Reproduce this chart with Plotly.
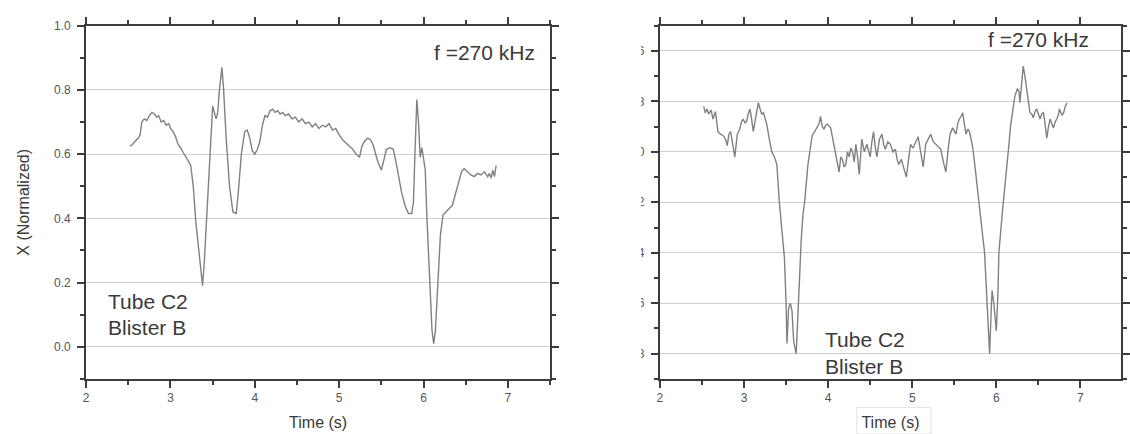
import plotly.graph_objects as go

# ---- left panel: X (Normalized) vs time ----
time_x = [2.52, 2.55, 2.58, 2.62, 2.64, 2.66, 2.69, 2.72, 2.75, 2.78, 2.81, 2.84, 2.86, 2.89,
          2.92, 2.95, 2.98, 3.00, 3.03, 3.06, 3.09, 3.12, 3.15, 3.18, 3.21, 3.24, 3.27, 3.30,
          3.33, 3.36, 3.38, 3.40, 3.43, 3.46, 3.49, 3.50, 3.52, 3.54, 3.56, 3.58, 3.61, 3.63,
          3.66, 3.70, 3.74, 3.78, 3.81, 3.84, 3.88, 3.91, 3.94, 3.97, 4.00, 4.03, 4.06, 4.09,
          4.12, 4.15, 4.18, 4.21, 4.24, 4.27, 4.30, 4.33, 4.36, 4.40, 4.44, 4.48, 4.52, 4.56,
          4.60, 4.64, 4.68, 4.72, 4.76, 4.80, 4.84, 4.88, 4.92, 4.96, 5.00, 5.04, 5.08, 5.12,
          5.16, 5.20, 5.24, 5.27, 5.30, 5.34, 5.37, 5.40, 5.43, 5.46, 5.50, 5.53, 5.56, 5.60,
          5.64, 5.67, 5.70, 5.74, 5.78, 5.82, 5.86, 5.88, 5.90, 5.92, 5.94, 5.96, 5.98, 6.00,
          6.02, 6.04, 6.07, 6.10, 6.12, 6.14, 6.17, 6.20, 6.23, 6.26, 6.30, 6.34, 6.38, 6.42,
          6.45, 6.48, 6.52, 6.56, 6.60, 6.64, 6.68, 6.72, 6.76, 6.78, 6.80, 6.82, 6.84, 6.86]
x_norm = [0.625, 0.63, 0.64, 0.65, 0.66, 0.70, 0.71, 0.705, 0.72, 0.73, 0.725, 0.715, 0.72, 0.70,
          0.705, 0.69, 0.695, 0.68, 0.67, 0.655, 0.63, 0.62, 0.605, 0.59, 0.58, 0.565, 0.50, 0.39,
          0.31, 0.25, 0.19, 0.26, 0.40, 0.55, 0.70, 0.75, 0.73, 0.71, 0.73, 0.80, 0.87, 0.80,
          0.65, 0.50, 0.42, 0.415, 0.50, 0.60, 0.67, 0.675, 0.65, 0.61, 0.60, 0.615, 0.64, 0.69,
          0.72, 0.715, 0.735, 0.74, 0.73, 0.735, 0.725, 0.73, 0.72, 0.725, 0.71, 0.715, 0.70, 0.71,
          0.695, 0.70, 0.685, 0.695, 0.68, 0.69, 0.685, 0.695, 0.675, 0.68, 0.66, 0.645, 0.635, 0.625,
          0.615, 0.60, 0.59, 0.625, 0.64, 0.65, 0.645, 0.63, 0.60, 0.575, 0.55, 0.58, 0.615, 0.62,
          0.615, 0.58, 0.54, 0.48, 0.44, 0.415, 0.415, 0.45, 0.62, 0.77, 0.70, 0.59, 0.62, 0.59,
          0.55, 0.40, 0.20, 0.05, 0.01, 0.05, 0.20, 0.35, 0.41, 0.42, 0.43, 0.44, 0.48, 0.52,
          0.545, 0.555, 0.545, 0.535, 0.53, 0.54, 0.535, 0.545, 0.53, 0.54, 0.525, 0.55, 0.53, 0.565]

# ---- right panel: Y (Normalized) vs time ----
time_y = [2.52, 2.54, 2.56, 2.58, 2.61, 2.63, 2.66, 2.69, 2.72, 2.75, 2.78, 2.80, 2.82, 2.84,
          2.86, 2.89, 2.92, 2.95, 2.97, 2.99, 3.01, 3.03, 3.05, 3.07, 3.09, 3.11, 3.14, 3.17,
          3.19, 3.21, 3.23, 3.25, 3.27, 3.30, 3.33, 3.36, 3.39, 3.42, 3.45, 3.48, 3.50, 3.51,
          3.53, 3.55, 3.57, 3.59, 3.62, 3.65, 3.68, 3.70, 3.72, 3.76, 3.79, 3.81, 3.84, 3.87,
          3.89, 3.91, 3.93, 3.95, 3.97, 3.99, 4.01, 4.03, 4.05, 4.07, 4.10, 4.13, 4.15, 4.17,
          4.19, 4.21, 4.23, 4.25, 4.27, 4.29, 4.31, 4.33, 4.35, 4.37, 4.40, 4.43, 4.46, 4.48,
          4.50, 4.52, 4.54, 4.56, 4.58, 4.61, 4.64, 4.66, 4.68, 4.71, 4.74, 4.77, 4.80, 4.82,
          4.84, 4.87, 4.90, 4.93, 4.96, 4.98, 5.01, 5.04, 5.07, 5.10, 5.13, 5.16, 5.19, 5.22,
          5.25, 5.28, 5.31, 5.34, 5.37, 5.40, 5.43, 5.45, 5.48, 5.50, 5.52, 5.54, 5.56, 5.58,
          5.60, 5.62, 5.64, 5.66, 5.68, 5.70, 5.72, 5.74, 5.76, 5.79, 5.81, 5.84, 5.86, 5.89,
          5.92, 5.94, 5.95, 5.97, 5.99, 6.00, 6.02, 6.03, 6.07, 6.10, 6.13, 6.15, 6.17, 6.20,
          6.22, 6.25, 6.27, 6.28, 6.30, 6.32, 6.34, 6.36, 6.38, 6.40, 6.42, 6.44, 6.46, 6.48,
          6.50, 6.52, 6.54, 6.56, 6.58, 6.60, 6.62, 6.64, 6.66, 6.68, 6.70, 6.72, 6.74, 6.75,
          6.78, 6.80, 6.82, 6.84]
y_norm = [-0.82, -0.845, -0.83, -0.85, -0.835, -0.87, -0.84, -0.92, -0.93, -0.935, -0.95, -0.975, -0.93, -0.92,
          -0.96, -1.02, -0.93, -0.91, -0.88, -0.87, -0.885, -0.88, -0.85, -0.83, -0.87, -0.92, -0.86, -0.805,
          -0.83, -0.85, -0.845, -0.87, -0.89, -0.95, -1.0, -1.02, -1.05, -1.2, -1.32, -1.42, -1.6, -1.76,
          -1.62, -1.60, -1.63, -1.75, -1.80, -1.55, -1.35, -1.25, -1.2, -1.05, -0.97, -0.935, -0.92, -0.90,
          -0.89, -0.86, -0.9, -0.91, -0.895, -0.89, -0.9, -0.905, -0.94, -0.975, -1.02, -1.08, -1.02, -1.03,
          -1.06, -1.05, -1.0, -1.02, -0.985, -1.0, -1.04, -0.97, -1.02, -1.09, -0.95, -1.0, -0.97, -1.0,
          -1.02, -0.96, -0.92, -0.98, -1.02, -0.95, -0.93, -0.97, -0.99, -0.96, -0.97, -1.0, -0.99, -1.03,
          -1.05, -1.03, -1.07, -1.1, -1.02, -0.97, -0.985, -0.96, -0.94, -1.0, -1.06, -0.97, -0.95, -0.93,
          -0.96, -0.97, -0.98, -0.99, -1.04, -1.08, -0.98, -0.93, -0.905, -0.92, -0.93, -0.89, -0.87, -0.86,
          -0.845, -0.89, -0.93, -0.91, -0.92, -0.95, -0.985, -1.04, -1.1, -1.17, -1.23, -1.32, -1.4, -1.6,
          -1.8, -1.62, -1.55, -1.6, -1.66, -1.71, -1.55, -1.4, -1.245, -1.15, -1.06, -0.97, -0.895, -0.83,
          -0.78, -0.75, -0.76, -0.805, -0.74, -0.66, -0.70, -0.75, -0.80, -0.845, -0.85, -0.865, -0.84, -0.83,
          -0.85, -0.87, -0.85, -0.845, -0.89, -0.946, -0.9, -0.87, -0.89, -0.905, -0.88, -0.87, -0.85, -0.83,
          -0.855, -0.845, -0.82, -0.806]

x_ticks = [2, 3, 4, 5, 6, 7]

W, H = 1130, 434
FONT = "Liberation Sans, Arial, sans-serif"
AXIS = "#3c3c3c"
TEXT = "#3a3a3a"
TICKTXT = "#555555"
GRID = "#cfcfcf"
TRACE = "#808080"


def px_x(p):
    return p / W


def px_y(p):
    return 1 - p / H


fig = go.Figure()
fig.add_trace(go.Scatter(x=time_x, y=x_norm, mode="lines", xaxis="x", yaxis="y",
                         line=dict(color=TRACE, width=1.4), showlegend=False))
fig.add_trace(go.Scatter(x=time_y, y=y_norm, mode="lines", xaxis="x2", yaxis="y2",
                         line=dict(color=TRACE, width=1.4), showlegend=False))

common_axis = dict(
    showline=True, linecolor=AXIS, linewidth=2, mirror="ticks",
    ticks="outside", ticklen=7, tickwidth=1.5, tickcolor=AXIS,
    tickfont=dict(family=FONT, size=12, color=TICKTXT),
    zeroline=False,
)

title_font = dict(family=FONT, size=16, color=TEXT)

xaxis_common = dict(common_axis, range=[2, 7.5], tickvals=x_ticks, showgrid=False,
                    minor=dict(dtick=0.5, tick0=0, ticklen=4, tickwidth=1.5, tickcolor=AXIS, showgrid=False),
                    title=dict(text="Time (s)", font=title_font, standoff=12))

yaxis_common = dict(common_axis, dtick=0.2, tick0=0, tickformat=".1f",
                    showgrid=True, gridcolor=GRID, gridwidth=1, ticklabelstandoff=4,
                    minor=dict(dtick=0.1, tick0=0, ticklen=4, tickwidth=1.5, tickcolor=AXIS, showgrid=False))

fig.update_layout(
    width=W, height=H,
    margin=dict(l=0, r=0, t=0, b=0),
    paper_bgcolor="white", plot_bgcolor="white",
    xaxis=dict(xaxis_common, domain=[px_x(84), px_x(553)], anchor="y"),
    yaxis=dict(yaxis_common, domain=[px_y(378), px_y(19)], range=[-0.1, 1.0], anchor="x",
               title=dict(text="X (Normalized)", font=title_font, standoff=20)),
    xaxis2=dict(xaxis_common, domain=[px_x(664), 1.0], range=[2, 2 + 466 / 85], anchor="y2"),
    yaxis2=dict(yaxis_common, domain=[px_y(378), px_y(19)], range=[-1.9, -0.5], anchor="x2"),
)

ann_font = dict(family=FONT, size=21, color=TEXT)
annotations = [
    dict(text="f =270 kHz", x=px_x(487), y=px_y(46)),
    dict(text="f =270 kHz", x=px_x(1047), y=px_y(33)),
    dict(text="Tube C2", x=px_x(104), y=px_y(299), xanchor="left"),
    dict(text="Blister B", x=px_x(104), y=px_y(326), xanchor="left"),
    dict(text="Tube C2", x=px_x(829), y=px_y(338), xanchor="left"),
    dict(text="Blister B", x=px_x(829), y=px_y(365), xanchor="left"),
]
for a in annotations:
    fig.add_annotation(xref="paper", yref="paper", showarrow=False, font=ann_font,
                       xanchor=a.get("xanchor", "center"), yanchor="middle",
                       x=a["x"], y=a["y"], text=a["text"])

# the right panel's y tick labels are cut at the panel's left edge
fig.add_shape(type="rect", xref="paper", yref="paper", layer="above",
              x0=px_x(566), x1=px_x(645), y0=0, y1=1,
              fillcolor="white", line=dict(width=0))
# faint frame around the right-hand axis title
fig.add_shape(type="rect", xref="paper", yref="paper", layer="above",
              x0=px_x(863), x1=px_x(938), y0=px_y(434), y1=px_y(407),
              fillcolor="rgba(0,0,0,0)", line=dict(color="#e2e2e2", width=1))

fig.write_html("out.html")
